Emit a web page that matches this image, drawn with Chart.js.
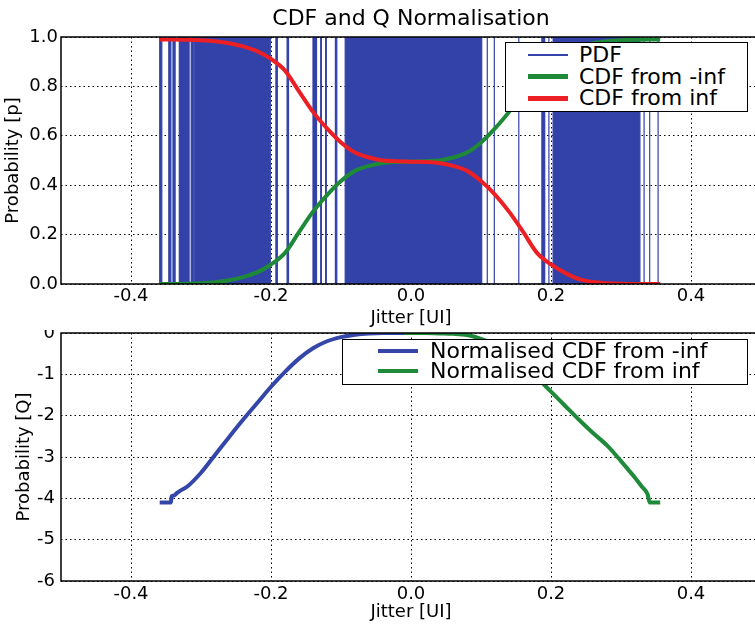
<!DOCTYPE html>
<html>
<head>
<meta charset="utf-8">
<title>CDF and Q Normalisation</title>
<script src="https://cdn.jsdelivr.net/npm/chart.js@4.4.0/dist/chart.umd.min.js"></script>
<style>
  html, body { margin: 0; padding: 0; background: #fff; overflow: hidden; }
  #page { position: relative; width: 755px; height: 624px; overflow: hidden; font-family: 'DejaVu Sans', sans-serif; }
  canvas { position: absolute; left: 0; }
  #topChart { top: 0; }
  #bottomChart { top: 330px; }
  .legend { position: absolute; box-sizing: border-box; border: 1px solid #000; background: #fff; }
  .legend .swatch { position: absolute; width: 40px; }
  .legend .label { position: absolute; font-size: 22px; line-height: 26px; white-space: nowrap; color: #000; }
</style>
</head>
<body>
<div id="page">
  <canvas id="topChart" width="822" height="330"></canvas>
  <canvas id="bottomChart" width="822" height="294"></canvas>
  <div class="legend" id="topLegend" style="left:505px; top:42px; width:243px; height:70px;"></div>
  <div class="legend" id="bottomLegend" style="left:342px; top:339px; width:406px; height:46px;"></div>
</div>
<script>
// tick values
const xTicks = [-0.4, -0.2, 0.0, 0.2, 0.4];
const pTicks = [0, 0.2, 0.4, 0.6, 0.8, 1.0];
const qTicks = [0, -1, -2, -3, -4, -5, -6];

// PDF trace: jitter spans where the trace is drawn (a single spike has start == end)
const pdfStart = [-0.359, -0.346, -0.340, -0.331, -0.326, -0.320, -0.314, -0.309, -0.193, -0.177, -0.140,
  -0.129, -0.122, -0.108, -0.094, 0.109, 0.119, 0.154, 0.187, 0.197, 0.203, 0.333, 0.341, 0.353];
const pdfEnd = [-0.356, -0.343, -0.337, -0.327, -0.321, -0.317, -0.311, -0.201, -0.191, -0.175, -0.135,
  -0.128, -0.121, -0.106, 0.101, 0.109, 0.119, 0.154, 0.191, 0.197, 0.327, 0.333, 0.341, 0.353];
const pdfPeak = 5; // PDF runs far above the 0..1 axis

// CDFs (top panel)
const cdfJitter = [-0.36, -0.34, -0.32, -0.30, -0.28, -0.26, -0.24, -0.22, -0.20, -0.18, -0.16, -0.14, -0.12,
  -0.10, -0.08, -0.06, -0.04, -0.02, 0.0, 0.02, 0.04, 0.06, 0.08, 0.10, 0.12, 0.14, 0.16, 0.18, 0.20, 0.22,
  0.24, 0.26, 0.28, 0.30, 0.32, 0.34, 0.356];
const cdfFromMinusInf = [0, 0, 0.001, 0.003, 0.007, 0.015, 0.028, 0.047, 0.079, 0.126, 0.21, 0.293, 0.36, 0.417,
  0.458, 0.478, 0.49, 0.494, 0.495, 0.497, 0.5, 0.512, 0.532, 0.573, 0.63, 0.697, 0.78, 0.864, 0.911, 0.943,
  0.962, 0.975, 0.983, 0.987, 0.989, 0.99, 0.99];
const cdfFromInf = [0.99, 0.99, 0.989, 0.987, 0.983, 0.975, 0.962, 0.943, 0.911, 0.864, 0.78, 0.697, 0.63, 0.573,
  0.532, 0.512, 0.5, 0.497, 0.495, 0.494, 0.49, 0.478, 0.458, 0.417, 0.362, 0.293, 0.212, 0.126, 0.079, 0.045,
  0.02, 0.008, 0.003, 0.001, 0, 0, 0];

// Q normalised CDFs (bottom panel)
const qJitterNeg = [-0.359, -0.343, -0.342, -0.338, -0.335, -0.33, -0.32, -0.30, -0.28, -0.26, -0.24, -0.22,
  -0.20, -0.18, -0.16, -0.14, -0.12, -0.10, -0.08, -0.06, -0.04, -0.02, 0.0];
const qFromMinusInf = [-4.1, -4.1, -3.95, -3.93, -3.88, -3.82, -3.72, -3.38, -2.95, -2.52, -2.1, -1.7, -1.3,
  -0.94, -0.62, -0.37, -0.2, -0.1, -0.04, -0.01, 0, 0, 0];
const qJitterPos = [-0.01, 0.02, 0.04, 0.06, 0.08, 0.10, 0.12, 0.14, 0.16, 0.18, 0.20, 0.22, 0.24, 0.26, 0.28,
  0.30, 0.31, 0.32, 0.33, 0.338, 0.341, 0.356];
const qFromInf = [0, 0, -0.01, -0.02, -0.05, -0.14, -0.28, -0.48, -0.75, -1.08, -1.42, -1.76, -2.1, -2.42, -2.72,
  -3.1, -3.3, -3.5, -3.72, -3.9, -4.1, -4.1];

Chart.defaults.font.family = "'DejaVu Sans', sans-serif";
Chart.defaults.color = '#000';

const zip = (xs, ys) => xs.map((x, i) => ({ x: x, y: ys[i] }));

function pdfPoints() {
  const pts = [];
  pdfStart.forEach((s, i) => {
    pts.push({ x: s, y: 0 }, { x: s, y: pdfPeak }, { x: pdfEnd[i], y: pdfPeak }, { x: pdfEnd[i], y: 0 });
  });
  return pts;
}

// box round the plot area, like matplotlib axes
const framePlugin = {
  id: 'frame',
  afterDraw(chart) {
    const { ctx, chartArea: a } = chart;
    ctx.save();
    ctx.strokeStyle = '#000';
    ctx.lineWidth = 1.5;
    ctx.strokeRect(a.left, a.top, a.right - a.left, a.bottom - a.top);
    ctx.restore();
  }
};

function xAxis(height, tickPad, titlePad) {
  return {
    type: 'linear', min: -0.5, max: 0.5, z: 1,
    afterBuildTicks: s => { s.ticks = xTicks.map(v => ({ value: v })); },
    afterFit: s => { s.height = height; s.paddingLeft = 0; s.paddingRight = 0; },
    ticks: { callback: v => v.toFixed(1), padding: tickPad, maxRotation: 0, autoSkip: false, font: { size: 18 } },
    grid: { color: '#000', lineWidth: 1, drawTicks: false },
    border: { display: false, dash: [1.5, 3] },
    title: { display: true, text: 'Jitter [UI]', font: { size: 18 }, padding: { top: 0, bottom: titlePad } }
  };
}

function yAxis(min, max, values, fmt, tickPad, titleText, titlePad) {
  return {
    type: 'linear', min: min, max: max, z: 1,
    afterBuildTicks: s => { s.ticks = values.map(v => ({ value: v })); },
    afterFit: s => { s.width = 61; s.paddingTop = 0; s.paddingBottom = 0; },
    ticks: { callback: fmt, padding: tickPad, autoSkip: false, font: { size: 18 } },
    grid: { color: '#000', lineWidth: 1, drawTicks: false },
    border: { display: false, dash: [1.5, 3] },
    title: { display: true, text: titleText, font: { size: 18 }, padding: { top: titlePad, bottom: 0 } }
  };
}

const lineBase = { pointRadius: 0, fill: false, cubicInterpolationMode: 'monotone', borderWidth: 4 };

const topChart = new Chart(document.getElementById('topChart'), {
  type: 'line',
  data: {
    datasets: [
      { label: 'PDF', data: pdfPoints(), borderColor: '#3342a8', backgroundColor: '#3342a8', borderWidth: 1.2,
        pointRadius: 0, fill: 'origin', tension: 0, order: 3 },
      Object.assign({ label: 'CDF from -inf', data: zip(cdfJitter, cdfFromMinusInf), borderColor: '#1e8a38', order: 2 }, lineBase),
      Object.assign({ label: 'CDF from inf', data: zip(cdfJitter, cdfFromInf), borderColor: '#ec2024', order: 1 }, lineBase)
    ]
  },
  options: {
    responsive: false, animation: false, devicePixelRatio: 1,
    layout: { padding: { left: 0, right: 61, top: 0, bottom: 0 } },
    scales: {
      x: xAxis(46, 2, 1.2),
      y: yAxis(0, 1, pTicks, v => v.toFixed(1), 3, 'Probability [p]', 3)
    },
    plugins: {
      legend: { display: false },
      tooltip: { enabled: false },
      title: { display: true, text: 'CDF and Q Normalisation', fullSize: false,
        font: { size: 22, weight: 'normal' }, padding: { top: 6, bottom: 4.6 } }
    }
  },
  plugins: [framePlugin]
});

const bottomChart = new Chart(document.getElementById('bottomChart'), {
  type: 'line',
  data: {
    datasets: [
      Object.assign({ label: 'Normalised CDF from -inf', data: zip(qJitterNeg, qFromMinusInf), borderColor: '#3446a8', order: 2 }, lineBase),
      Object.assign({ label: 'Normalised CDF from inf', data: zip(qJitterPos, qFromInf), borderColor: '#1f8a3a', order: 1 }, lineBase)
    ]
  },
  options: {
    responsive: false, animation: false, devicePixelRatio: 1,
    layout: { padding: { left: 0, right: 61, top: 3, bottom: 0 } },
    scales: {
      x: xAxis(43, 3, 1.2),
      y: yAxis(-6, 0, qTicks, v => String(v), 6, 'Probability [Q]', 14)
    },
    plugins: {
      legend: { display: false },
      tooltip: { enabled: false }
    }
  },
  plugins: [framePlugin]
});

// legends drawn as boxes inside the plots, matplotlib style
function buildLegend(id, datasets, swatchLeft, textLeft, rowCenters, swatchWidths) {
  const box = document.getElementById(id);
  datasets.forEach((ds, i) => {
    const sw = document.createElement('div');
    sw.className = 'swatch';
    sw.style.left = swatchLeft + 'px';
    sw.style.top = (rowCenters[i] - swatchWidths[i] / 2) + 'px';
    sw.style.height = swatchWidths[i] + 'px';
    sw.style.background = ds.borderColor;
    box.appendChild(sw);
    const lb = document.createElement('div');
    lb.className = 'label';
    lb.style.left = textLeft + 'px';
    lb.style.top = (rowCenters[i] - 13) + 'px';
    lb.textContent = ds.label;
    box.appendChild(lb);
  });
}

buildLegend('topLegend', topChart.data.datasets, 22, 73, [12, 33.5, 55], [2, 5, 5]);
buildLegend('bottomLegend', bottomChart.data.datasets, 35, 87, [10.5, 30.5], [4, 4]);
</script>
</body>
</html>
